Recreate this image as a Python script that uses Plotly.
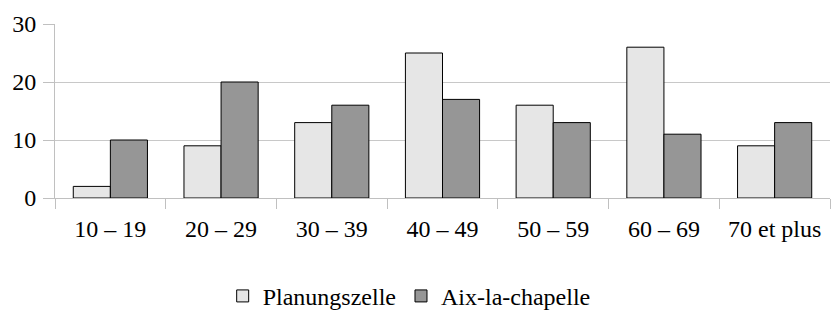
import plotly.graph_objects as go

categories = ["10 – 19", "20 – 29", "30 – 39", "40 – 49", "50 – 59", "60 – 69", "70 et plus"]
planungszelle = [2, 9, 13, 25, 16, 26, 9]
aix = [10, 20, 16, 17, 13, 11, 13]
y_ticks = [0, 10, 20, 30]

font = dict(family="'Liberation Serif', 'Times New Roman', Times, serif", size=24, color="#000000")

fig = go.Figure()
fig.add_trace(go.Bar(name="Planungszelle", x=categories, y=planungszelle,
                     marker=dict(color="#e6e6e6", line=dict(color="#000000", width=1))))
fig.add_trace(go.Bar(name="Aix-la-chapelle", x=categories, y=aix,
                     marker=dict(color="#969696", line=dict(color="#000000", width=1))))

fig.update_layout(
    width=831, height=322,
    margin=dict(l=55, r=1, t=24, b=124),
    paper_bgcolor="white", plot_bgcolor="white",
    barmode="group", bargap=0.33, bargroupgap=0,
    font=font,
    showlegend=True,
    legend=dict(orientation="h", x=0.457, xanchor="center", y=-0.565, yanchor="middle",
                font=font, itemwidth=30, traceorder="normal"),
)
fig.update_xaxes(
    type="category", showline=True, linecolor="#c0c0c0", linewidth=1,
    ticks="outside", tickson="boundaries", ticklen=10, tickcolor="#c0c0c0",
    showgrid=False, tickfont=font, ticklabelstandoff=9,
)
fig.update_yaxes(
    range=[0, 30], tickvals=y_ticks, showline=True, linecolor="#c0c0c0", linewidth=1,
    ticks="outside", ticklen=11, tickcolor="#c0c0c0",
    showgrid=True, gridcolor="#c8c8c8", gridwidth=1, zeroline=False,
    tickfont=font, ticklabelstandoff=2,
)

fig.write_html("out.html")
